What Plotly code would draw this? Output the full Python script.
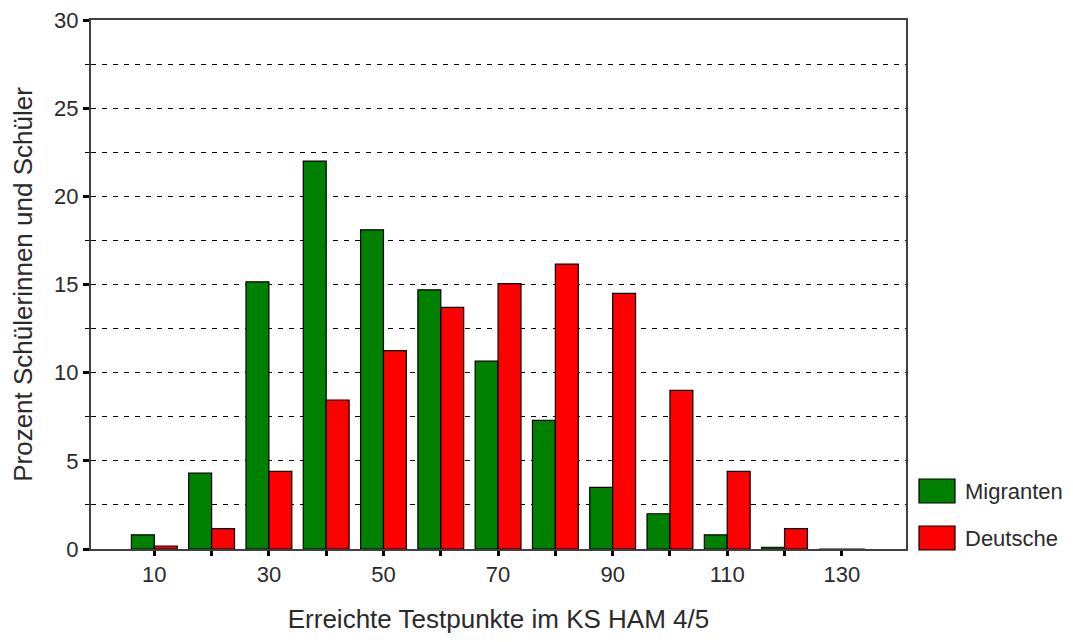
import plotly.graph_objects as go

punkte = [10, 20, 30, 40, 50, 60, 70, 80, 90, 100, 110, 120, 130]
tick_labels = ["10", "", "30", "", "50", "", "70", "", "90", "", "110", "", "130"]
migranten = [0.8, 4.3, 15.15, 22.0, 18.1, 14.7, 10.65, 7.3, 3.5, 2.0, 0.8, 0.1, 0.0]
deutsche = [0.17, 1.15, 4.4, 8.45, 11.25, 13.7, 15.05, 16.15, 14.5, 9.0, 4.4, 1.15, 0.0]
y_ticks = [0, 5, 10, 15, 20, 25, 30]

GREEN = "#008000"
RED = "#FF0000"
FONT = "Liberation Sans, Arial, sans-serif"
TXT = "#2a2a2a"

# page body has an 8px margin, so figure coordinates are offset by 8px
OFF = 8
W, H = 1073 - 2 * OFF, 642 - 2 * OFF
L, T = 91 - OFF, 20 - OFF
R = W - (906 - OFF)
B = H - (549 - OFF)
PW, PH = W - L - R, H - T - B

fig = go.Figure()
fig.add_trace(go.Bar(x=punkte, y=migranten, name="Migranten",
                     marker=dict(color=GREEN, line=dict(color="black", width=1.2))))
fig.add_trace(go.Bar(x=punkte, y=deutsche, name="Deutsche",
                     marker=dict(color=RED, line=dict(color="black", width=1.2))))

fig.update_layout(
    width=W, height=H,
    margin=dict(l=L, r=R, t=T, b=B),
    paper_bgcolor="white", plot_bgcolor="white",
    barmode="group", bargap=0.2, bargroupgap=0,
    showlegend=False,
    font=dict(family=FONT, size=22, color=TXT),
)

fig.update_xaxes(
    range=[-1.05, 141.2],
    tickvals=punkte, ticktext=tick_labels,
    ticks="outside", ticklen=5, tickwidth=3, tickcolor="black",
    showline=True, linecolor="#404040", linewidth=2, mirror=True,
    showgrid=False, zeroline=False, automargin=False,
    ticklabeloverflow="allow",
    tickfont=dict(size=22, color=TXT),
    title=dict(text="Erreichte Testpunkte im KS HAM 4/5", font=dict(size=26, color=TXT), standoff=33),
)

fig.update_yaxes(
    range=[0, 30],
    tickvals=y_ticks,
    ticks="outside", ticklen=6, tickwidth=3, tickcolor="black",
    showline=True, linecolor="#404040", linewidth=2, mirror=True,
    showgrid=True, gridcolor="black", gridwidth=1, griddash="5px,6px",
    zeroline=False, automargin=False,
    ticklabeloverflow="allow",
    minor=dict(dtick=2.5, showgrid=True, gridcolor="black", gridwidth=1, griddash="5px,6px",
               ticks="outside", ticklen=4, tickwidth=1, tickcolor="black"),
    tickfont=dict(size=22, color=TXT),
    title=dict(text="Prozent Schülerinnen und Schüler", font=dict(size=26, color=TXT), standoff=18),
)

# legend drawn as boxes + labels to the right of the plot (screen pixel positions)
legend_items = [("Migranten", GREEN, 491), ("Deutsche", RED, 538)]
for label, color, yc in legend_items:
    fig.add_shape(type="rect", xref="paper", yref="paper",
                  x0=(919 - OFF - L) / PW, x1=(955 - OFF - L) / PW,
                  y0=1 - (yc + 12 - OFF - T) / PH, y1=1 - (yc - 12 - OFF - T) / PH,
                  fillcolor=color, line=dict(color="black", width=1.2))
    fig.add_annotation(xref="paper", yref="paper",
                       x=(963 - OFF - L) / PW, y=1 - (yc - OFF - T) / PH,
                       text=label, showarrow=False, xanchor="left", yanchor="middle",
                       font=dict(size=22, color=TXT))

fig.write_html("out.html")
